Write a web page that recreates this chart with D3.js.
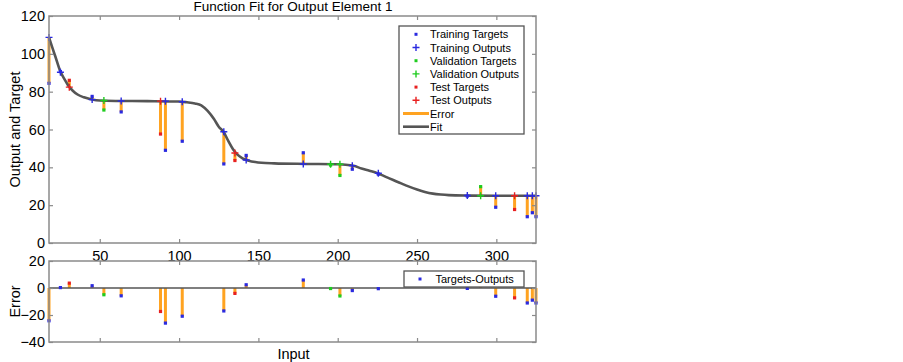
<!DOCTYPE html>
<html>
<head>
<meta charset="utf-8">
<script src="https://cdn.jsdelivr.net/npm/d3@7"></script>
<style>
  html, body { margin: 0; padding: 0; background: #fff; }
  svg { display: block; font-family: "Liberation Sans", Arial, sans-serif; }
</style>
</head>
<body>
<svg id="chart" width="903" height="362"></svg>
<script>
// ---- data ----
const inputs   = [18, 25.2, 30.8, 45.2, 52.6, 63.5, 88.3, 91.4, 102.0, 128.2, 135.2, 142.3, 178.3, 195.5, 201.4, 209.2, 225.6, 281.7, 290.1, 299.6, 311.5, 319.5, 322.7, 325];
const targets  = [84.4, 90.6, 86.0, 77.5, 70.3, 69.3, 57.6, 49.0, 53.8, 41.8, 43.6, 46.3, 47.7, 41.2, 35.7, 39.0, 36.4, 24.8, 29.8, 18.9, 17.7, 13.9, 16.0, 13.9];
const outputs  = [108.7, 90.3, 82.4, 75.8, 75.3, 75.1, 75.0, 75.0, 74.7, 58.8, 47.6, 43.9, 41.8, 41.6, 41.6, 40.9, 36.9, 25.1, 25.0, 25.0, 25.0, 25.0, 25.0, 25.0];
const errors   = [-24.3, 0.3, 3.6, 1.7, -5.0, -5.8, -17.4, -26.0, -20.9, -17.0, -4.0, 2.4, 5.9, -0.4, -5.9, -1.9, -0.5, -0.3, 4.8, -6.1, -7.3, -11.1, -9.0, -11.1];
const sets     = ["train","train","test","train","val","train","test","train","train","train","test","train","train","val","val","train","train","train","val","train","test","train","train","train"];

const fitX = [18, 20, 22, 25, 28, 30, 33, 36, 40, 45, 50, 60, 80, 100, 105, 110, 114, 118, 122, 125, 128, 131, 134, 137, 140, 144, 148, 152, 160, 180, 200, 205, 210, 215, 220, 225, 230, 235, 240, 245, 250, 255, 260, 265, 270, 280, 300, 325];
const fitY = [108.7, 103.5, 98.6, 91.0, 86.2, 83.4, 80.5, 78.5, 77.0, 75.9, 75.3, 75.1, 75.0, 74.8, 74.4, 73.8, 72.8, 69.8, 65.5, 61.5, 58.8, 54.0, 49.6, 46.6, 44.8, 43.5, 42.8, 42.4, 42.1, 41.8, 41.6, 41.4, 40.8, 39.4, 38.2, 36.9, 35.1, 33.3, 31.5, 29.8, 28.3, 27.0, 26.1, 25.6, 25.3, 25.1, 25.0, 25.0];

const xTicks = [50, 100, 150, 200, 250, 300];
const yTopTicks = [0, 20, 40, 60, 80, 100, 120];
const yBotTicks = [-40, -20, 0, 20];

const legendLabels = ["Training Targets", "Training Outputs", "Validation Targets", "Validation Outputs", "Test Targets", "Test Outputs", "Error", "Fit"];
const titleText = "Function Fit for Output Element 1";

// ---- styles ----
const setColor = { train: "#2a2ae0", val: "#1fcc1f", test: "#e82020" };
const errColor = "#ffa321";
const fitColor = "#555555";
const axisColor = "#8a8a8a";

const svg = d3.select("#chart");

const x = d3.scaleLinear().domain([18, 325]).range([49, 536]);
const yTop = d3.scaleLinear().domain([0, 120]).range([243, 16]);
const yBot = d3.scaleLinear().domain([-40, 20]).range([342, 261]);

function frame(g, y, yTicks, showX) {
  // left axis with labels
  const left = g.append("g").attr("transform", `translate(${x.range()[0]},0)`)
    .call(d3.axisLeft(y).tickValues(yTicks).tickSizeInner(-4).tickSizeOuter(0).tickPadding(4));
  const right = g.append("g").attr("transform", `translate(${x.range()[1]},0)`)
    .call(d3.axisRight(y).tickValues(yTicks).tickSizeInner(-4).tickSizeOuter(0).tickFormat(""));
  const bottom = g.append("g").attr("transform", `translate(0,${y.range()[0]})`)
    .call(d3.axisBottom(x).tickValues(xTicks).tickSizeInner(-4).tickSizeOuter(0).tickPadding(7.5)
      .tickFormat(showX ? d3.format("d") : ""));
  const top = g.append("g").attr("transform", `translate(0,${y.range()[1]})`)
    .call(d3.axisTop(x).tickValues(xTicks).tickSizeInner(-4).tickSizeOuter(0).tickFormat(""));
  [left, right, bottom, top].forEach(a => {
    a.selectAll(".domain").remove();
    a.selectAll(".tick line").attr("stroke", axisColor).attr("stroke-width", 1.2);
    a.selectAll("text").attr("fill", "#000").style("font-size", "14.5px")
      .style("font-family", '"Liberation Sans", Arial, sans-serif');
  });
  g.append("rect")
    .attr("x", x.range()[0]).attr("y", y.range()[1])
    .attr("width", x.range()[1] - x.range()[0]).attr("height", y.range()[0] - y.range()[1])
    .attr("fill", "none").attr("stroke", axisColor).attr("stroke-width", 1.5);
}

const idx = d3.range(inputs.length);
const plusPath = "M-3.5,0H3.5M0,-3.5V3.5";

// ---- top plot ----
const gTop = svg.append("g");
gTop.append("g").selectAll("line").data(idx).join("line")
  .attr("x1", i => x(inputs[i])).attr("x2", i => x(inputs[i]))
  .attr("y1", i => yTop(targets[i])).attr("y2", i => yTop(outputs[i]))
  .attr("stroke", errColor).attr("stroke-width", 3);

gTop.append("path")
  .datum(d3.range(fitX.length))
  .attr("d", d3.line().x(i => x(fitX[i])).y(i => yTop(fitY[i])).curve(d3.curveMonotoneX))
  .attr("fill", "none").attr("stroke", fitColor).attr("stroke-width", 2.6);

gTop.append("g").selectAll("rect").data(idx).join("rect")
  .attr("x", i => x(inputs[i]) - 1.6).attr("y", i => yTop(targets[i]) - 1.6)
  .attr("width", 3.2).attr("height", 3.2)
  .attr("fill", i => setColor[sets[i]]);

gTop.append("g").selectAll("path").data(idx).join("path")
  .attr("transform", i => `translate(${x(inputs[i])},${yTop(outputs[i])})`)
  .attr("d", plusPath).attr("fill", "none")
  .attr("stroke", i => setColor[sets[i]]).attr("stroke-width", 1.4);

frame(gTop, yTop, yTopTicks, true);

// ---- bottom plot ----
const gBot = svg.append("g");
gBot.append("g").selectAll("line").data(idx).join("line")
  .attr("x1", i => x(inputs[i])).attr("x2", i => x(inputs[i]))
  .attr("y1", yBot(0)).attr("y2", i => yBot(errors[i]))
  .attr("stroke", errColor).attr("stroke-width", 3);
gBot.append("line")
  .attr("x1", x.range()[0]).attr("x2", x.range()[1])
  .attr("y1", yBot(0)).attr("y2", yBot(0))
  .attr("stroke", "#555").attr("stroke-width", 1.4);
gBot.append("g").selectAll("rect").data(idx).join("rect")
  .attr("x", i => x(inputs[i]) - 1.6).attr("y", i => yBot(errors[i]) - 1.6)
  .attr("width", 3.2).attr("height", 3.2)
  .attr("fill", i => setColor[sets[i]]);
frame(gBot, yBot, yBotTicks, false);

// ---- texts ----
const font = '"Liberation Sans", Arial, sans-serif';
svg.append("text").attr("x", 293).attr("y", 10.5).attr("text-anchor", "middle")
  .style("font-size", "13.5px").style("font-family", font).text(titleText);
svg.append("text").attr("transform", "translate(19.5,129.5) rotate(-90)").attr("text-anchor", "middle")
  .style("font-size", "14.5px").style("font-family", font).text("Output and Target");
svg.append("text").attr("transform", "translate(19.5,301.5) rotate(-90)").attr("text-anchor", "middle")
  .style("font-size", "14.5px").style("font-family", font).text("Error");
svg.append("text").attr("x", 293.5).attr("y", 358.5).attr("text-anchor", "middle")
  .style("font-size", "14.5px").style("font-family", font).text("Input");

// ---- legend (top) ----
const lg = svg.append("g");
lg.append("rect").attr("x", 399).attr("y", 26).attr("width", 125).attr("height", 108)
  .attr("fill", "#fff").attr("stroke", "#555").attr("stroke-width", 1.3);
const legendKinds = ["dot", "plus", "dot", "plus", "dot", "plus", "err", "fit"];
const legendCols = [setColor.train, setColor.train, setColor.val, setColor.val, setColor.test, setColor.test, errColor, fitColor];
legendLabels.forEach((lab, i) => {
  const cy = 34.3 + i * 13.2;
  const k = legendKinds[i];
  if (k === "dot") {
    lg.append("rect").attr("x", 414.5).attr("y", cy - 1.5).attr("width", 3).attr("height", 3).attr("fill", legendCols[i]);
  } else if (k === "plus") {
    lg.append("path").attr("transform", `translate(416,${cy})`).attr("d", plusPath)
      .attr("fill", "none").attr("stroke", legendCols[i]).attr("stroke-width", 1.4);
  } else {
    lg.append("line").attr("x1", 403).attr("x2", 429).attr("y1", cy).attr("y2", cy)
      .attr("stroke", legendCols[i]).attr("stroke-width", k === "err" ? 3 : 2.6);
  }
  lg.append("text").attr("x", k === "err" || k === "fit" ? 430 : 430).attr("y", cy + 4)
    .style("font-size", "11px").style("font-family", font).text(lab);
});

// ---- legend (bottom) ----
const lb = svg.append("g");
lb.append("rect").attr("x", 404).attr("y", 271).attr("width", 120).attr("height", 16)
  .attr("fill", "#fff").attr("stroke", "#555").attr("stroke-width", 1.3);
lb.append("rect").attr("x", 418.5).attr("y", 277.5).attr("width", 3).attr("height", 3).attr("fill", setColor.train);
lb.append("text").attr("x", 435.5).attr("y", 283).style("font-size", "11px").style("font-family", font).text("Targets-Outputs");
</script>
</body>
</html>
